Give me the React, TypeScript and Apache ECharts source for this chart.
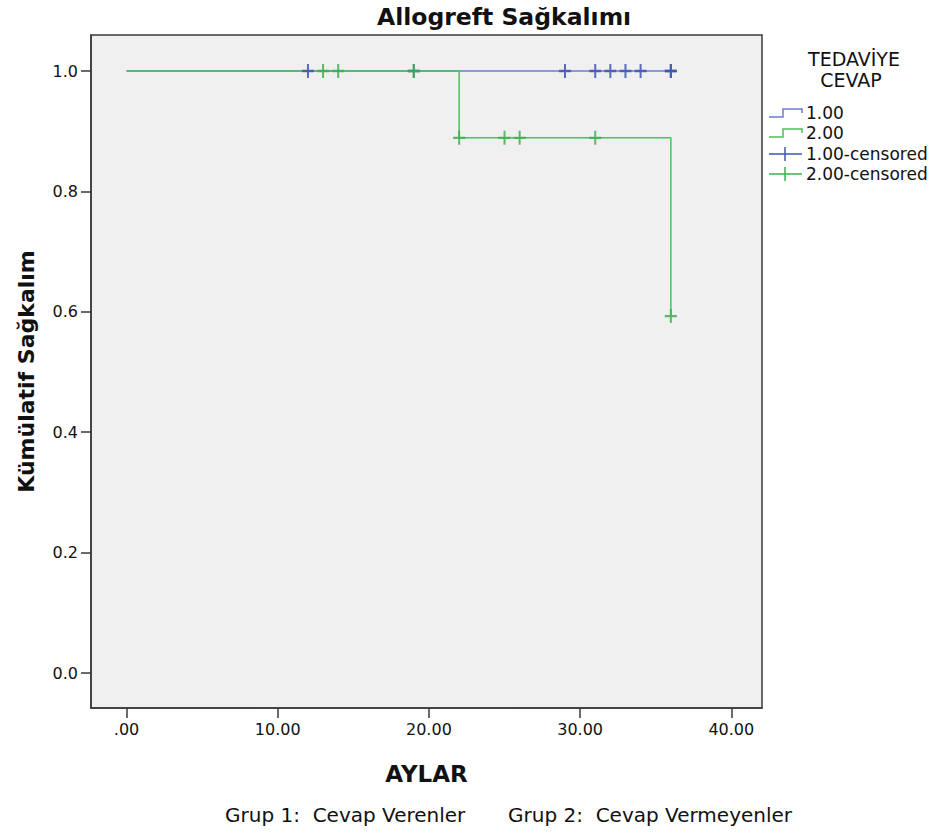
import React, { useEffect, useRef } from "react";
import * as echarts from "echarts";

const xTicks = [0, 10, 20, 30, 40];
const yTicks = [0, 0.2, 0.4, 0.6, 0.8, 1.0];

const group1Times = [0, 36];
const group1Surv = [1.0, 1.0];
const group2Times = [0, 22, 36];
const group2Surv = [1.0, 0.889, 0.593];

const group1CensTimes = [12, 19, 29, 31, 32, 33, 34, 36, 36];
const group1CensSurv = [1, 1, 1, 1, 1, 1, 1, 1, 1];
const group2CensTimes = [13, 14, 19, 22, 25, 26, 31, 36];
const group2CensSurv = [1, 1, 1, 0.889, 0.889, 0.889, 0.889, 0.593];

const legendLabels = ["1.00", "2.00", "1.00-censored", "2.00-censored"];

const BLUE_LINE = "#6b7bd0";
const BLUE_MARK = "#3f54b4";
const GREEN_LINE = "#4cc05a";
const GREEN_MARK = "#3db04c";
const FONT = "DejaVu Sans";

const PLUS = "path://M5,0 h2 v5 h5 v2 h-5 v5 h-2 v-5 h-5 v-2 h5 z";

const zip = (a: number[], b: number[]) => a.map((v, i) => [v, b[i]]);

export default function App() {
  const ref = useRef<HTMLDivElement>(null);
  useEffect(() => {
    if (!ref.current) return;
    const chart = echarts.init(ref.current, null, { renderer: "svg" });
    const legendY = [113, 133, 154, 174];
    const lx = 769;
    const legendGraphics: any[] = [
      {
        type: "text",
        x: 854,
        y: 59,
        style: { text: "TEDAVİYE", fontFamily: FONT, fontSize: 19, fill: "#111", align: "center", verticalAlign: "middle" },
      },
      {
        type: "text",
        x: 851,
        y: 80,
        style: { text: "CEVAP", fontFamily: FONT, fontSize: 19, fill: "#111", align: "center", verticalAlign: "middle" },
      },
    ];
    const colors = [BLUE_LINE, GREEN_LINE, BLUE_MARK, GREEN_MARK];
    legendY.forEach((y, i) => {
      if (i < 2) {
        legendGraphics.push({
          type: "polyline",
          shape: { points: [[lx, y + 4], [lx + 14, y + 4], [lx + 14, y - 4], [lx + 33, y - 4], [lx + 33, y]] },
          style: { stroke: colors[i], lineWidth: 1.5, fill: null },
        });
      } else {
        legendGraphics.push({
          type: "line",
          shape: { x1: lx, y1: y, x2: lx + 33, y2: y },
          style: { stroke: colors[i], lineWidth: 1.5 },
        });
        legendGraphics.push({
          type: "line",
          shape: { x1: lx + 16, y1: y - 7, x2: lx + 16, y2: y + 7 },
          style: { stroke: colors[i], lineWidth: 1.5 },
        });
      }
      legendGraphics.push({
        type: "text",
        x: 806,
        y: y,
        style: { text: legendLabels[i], fontFamily: FONT, fontSize: 17, fill: "#111", verticalAlign: "middle" },
      });
    });

    chart.setOption({
      animation: false,
      backgroundColor: "#ffffff",
      grid: {
        left: 91,
        right: 182,
        top: 35,
        bottom: 126,
        show: true,
        backgroundColor: "#f0f0f0",
        borderColor: "#3a3a3a",
        borderWidth: 1.5,
      },
      xAxis: {
        type: "value",
        min: -2.35,
        max: 42.03,
        name: "AYLAR",
        nameLocation: "middle",
        nameGap: 54,
        nameTextStyle: { fontFamily: FONT, fontSize: 23, fontWeight: "bold", color: "#111" },
        axisLine: { onZero: false, lineStyle: { color: "#3a3a3a", width: 1.5 } },
        axisTick: { customValues: xTicks, length: 10, lineStyle: { color: "#3a3a3a", width: 1.5 } },
        axisLabel: {
          customValues: xTicks,
          margin: 13,
          fontFamily: FONT,
          fontSize: 16,
          color: "#111",
          formatter: (v: number) => (v === 0 ? ".00" : v.toFixed(2)),
        },
        splitLine: { show: false },
      },
      yAxis: {
        type: "value",
        min: -0.058,
        max: 1.0598,
        name: "Kümülatif Sağkalım",
        nameLocation: "middle",
        nameGap: 54,
        nameTextStyle: { fontFamily: FONT, fontSize: 22, fontWeight: "bold", color: "#111" },
        axisLine: { onZero: false, lineStyle: { color: "#3a3a3a", width: 1.5 } },
        axisTick: { customValues: yTicks, length: 10, lineStyle: { color: "#3a3a3a", width: 1.5 } },
        axisLabel: {
          customValues: yTicks,
          margin: 13,
          fontFamily: FONT,
          fontSize: 16,
          color: "#111",
          formatter: (v: number) => v.toFixed(1),
        },
        splitLine: { show: false },
      },
      graphic: [
        {
          type: "text",
          x: 377,
          y: 17,
          style: {
            text: "Allogreft Sağkalımı",
            fontFamily: FONT,
            fontSize: 23.5,
            fontWeight: "bold",
            fill: "#111",
            verticalAlign: "middle",
          },
        },
        {
          type: "text",
          x: 225,
          y: 815,
          style: { text: "Grup 1:  Cevap Verenler", fontFamily: FONT, fontSize: 20, fill: "#111", verticalAlign: "middle" },
        },
        {
          type: "text",
          x: 508,
          y: 815,
          style: { text: "Grup 2:  Cevap Vermeyenler", fontFamily: FONT, fontSize: 20, fill: "#111", verticalAlign: "middle" },
        },
        ...legendGraphics,
      ],
      series: [
        {
          name: "1.00",
          type: "line",
          data: zip(group1Times, group1Surv),
          step: "end",
          showSymbol: false,
          lineStyle: { color: BLUE_LINE, width: 1.5 },
          z: 2,
        },
        {
          name: "2.00",
          type: "line",
          data: zip(group2Times, group2Surv),
          step: "end",
          showSymbol: false,
          lineStyle: { color: GREEN_LINE, width: 1.5 },
          z: 3,
        },
        {
          name: "1.00-censored",
          type: "scatter",
          data: zip(group1CensTimes, group1CensSurv),
          symbol: PLUS,
          symbolSize: [12, 14],
          itemStyle: { color: BLUE_MARK, opacity: 0.85 },
          z: 4,
        },
        {
          name: "2.00-censored",
          type: "scatter",
          data: zip(group2CensTimes, group2CensSurv),
          symbol: PLUS,
          symbolSize: [12, 14],
          itemStyle: { color: GREEN_MARK, opacity: 0.85 },
          z: 5,
        },
      ],
    });
    return () => chart.dispose();
  }, []);
  return (
    <div
      ref={ref}
      style={{ position: "fixed", left: 0, top: 0, width: 944, height: 834 }}
    />
  );
}
